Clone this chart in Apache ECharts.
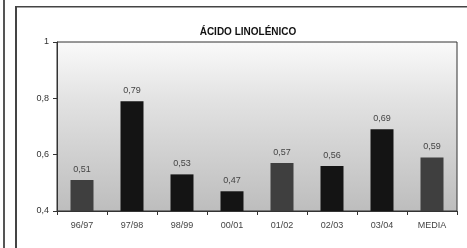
<!DOCTYPE html>
<html>
<head>
<meta charset="utf-8">
<script src="https://cdn.jsdelivr.net/npm/echarts@6/dist/echarts.min.js"></script>
<style>
  html, body { margin: 0; padding: 0; background: #fff; }
  #chart { width: 467px; height: 248px; }
</style>
</head>
<body>
<div id="chart"></div>
<script>
  // datos
  var campanas = ['96/97', '97/98', '98/99', '00/01', '01/02', '02/03', '03/04', 'MEDIA'];
  var linolenico = [0.51, 0.79, 0.53, 0.47, 0.57, 0.56, 0.69, 0.59];
  var yTicks = [0.4, 0.6, 0.8, 1];

  var chart = echarts.init(document.getElementById('chart'));

  // barras oscuras (escaneo) vs gris
  var oscuras = ['97/98', '98/99', '00/01', '02/03', '03/04'];
  var barData = linolenico.map(function (v, i) {
    return {
      value: v,
      itemStyle: { color: oscuras.indexOf(campanas[i]) >= 0 ? '#141414' : '#3f3f3f' }
    };
  });

  function coma(v) {
    return String(v).replace('.', ',');
  }

  var option = {
    animation: false,
    backgroundColor: '#fff',
    title: {
      text: 'ÁCIDO LINOLÉNICO',
      left: 243,
      top: 22,
      textAlign: 'center',
      textStyle: { fontFamily: 'Liberation Sans', fontSize: 10, fontWeight: 'bold', color: '#111' }
    },
    grid: {
      left: 57, right: 10, top: 42, bottom: 37,
      show: true,
      borderColor: '#333',
      borderWidth: 1,
      backgroundColor: {
        type: 'linear', x: 0, y: 0, x2: 0, y2: 1,
        colorStops: [
          { offset: 0, color: '#fafafa' },
          { offset: 0.35, color: '#e2e2e2' },
          { offset: 1, color: '#bdbdbd' }
        ]
      }
    },
    xAxis: {
      type: 'category',
      data: campanas,
      axisLine: { lineStyle: { color: '#333' } },
      axisTick: { show: true, alignWithLabel: false, length: 4, lineStyle: { color: '#333' } },
      axisLabel: { fontFamily: 'Liberation Sans', fontSize: 9, color: '#444', margin: 10 }
    },
    yAxis: {
      type: 'value',
      min: yTicks[0],
      max: yTicks[yTicks.length - 1],
      interval: 0.2,
      axisLine: { show: true, lineStyle: { color: '#333' } },
      axisTick: { show: true, length: 4, lineStyle: { color: '#333' } },
      splitLine: { show: false },
      axisLabel: {
        fontFamily: 'Liberation Sans', fontSize: 9, color: '#333', margin: 8,
        formatter: function (v) { return coma(Math.round(v * 10) / 10); }
      }
    },
    series: [{
      type: 'bar',
      data: barData,
      barWidth: '46%',
      label: {
        show: true,
        position: 'top',
        distance: 6,
        fontFamily: 'Liberation Sans',
        fontSize: 9,
        color: '#444',
        formatter: function (p) { return coma(p.value.toFixed(2)); }
      }
    }],
    graphic: [
      { type: 'rect', shape: { x: 3, y: 0, width: 2, height: 248 }, style: { fill: '#555' } },
      { type: 'rect', shape: { x: 15, y: 6, width: 2, height: 242 }, style: { fill: '#444' } },
      { type: 'rect', shape: { x: 15, y: 6, width: 452, height: 1.5 }, style: { fill: '#444' } }
    ]
  };

  chart.setOption(option);
</script>
</body>
</html>
